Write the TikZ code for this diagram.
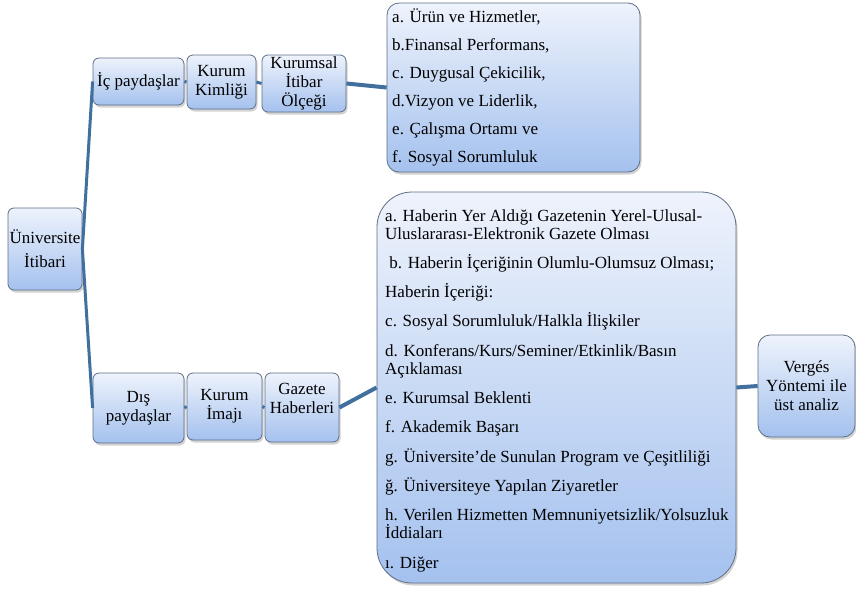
\documentclass[tikz,border=0pt]{standalone}
\usepackage{fontspec}
\setmainfont{Liberation Serif}
\newfontfamily\tnr{Liberation Serif}
\usetikzlibrary{shadows}
\definecolor{lnkc}{HTML}{41709F}
\definecolor{bdr}{HTML}{5E6E86}
\definecolor{ftop}{HTML}{EEF3FC}
\definecolor{fbot}{HTML}{A4C1EE}
\tikzset{
  box/.style={draw=bdr, line width=0.8pt, rounded corners=6pt,
    top color=ftop, bottom color=fbot,
    drop shadow={shadow xshift=1.5pt, shadow yshift=-2.5pt, opacity=0.35},
    inner sep=0pt, align=center, font=\tnr\fontsize{17}{19}\selectfont},
  itm/.style={anchor=base west, inner sep=0pt, font=\tnr\fontsize{17}{19}\selectfont},
  conn/.style={draw=lnkc, line width=3pt},
  connb/.style={draw=lnkc, line width=4pt},
}
\begin{document}
\begin{tikzpicture}[x=1pt, y=-1pt]
\useasboundingbox (0,0) rectangle (856,589);
% boxes
\node[box, minimum width=74pt, minimum height=82pt] (univ) at (45,249) {Üniversite\\[5pt]İtibari};
\node[box, minimum width=91pt, minimum height=47pt] (ic) at (138.5,81.5) {İç paydaşlar};
\node[box, minimum width=69pt, minimum height=54pt] (kk) at (221.5,82) {Kurum\\Kimliği};
\node[box, minimum width=84pt, minimum height=57pt] (kio) at (304,83.5) {Kurumsal\\İtibar\\Ölçeği};
\node[box, rounded corners=12pt, minimum width=253pt, minimum height=169pt] (top) at (513.5,87.5) {};
\node[box, minimum width=91pt, minimum height=70pt] (dis) at (138.5,408) {Dış\\paydaşlar};
\node[box, minimum width=75pt, minimum height=67pt] (ki) at (224.5,406.5) {Kurum\\İmajı};
\node[box, minimum width=74pt, minimum height=69pt] (gh) at (302,407.5) {Gazete\\Haberleri\\\mbox{}};
\node[box, rounded corners=35pt, minimum width=359pt, minimum height=391pt] (bot) at (556.5,387.5) {};
\node[box, rounded corners=12pt, minimum width=97pt, minimum height=102pt] (vg) at (806.5,386) {Vergés\\Yöntemi ile\\üst analiz};
% top list
\node[itm] (t1) at (392,23) {a. Ürün ve Hizmetler,};
\node[itm] (t2) at (392,50.8) {b.Finansal Performans,};
\node[itm] (t3) at (392,78.6) {c. Duygusal Çekicilik,};
\node[itm] (t4) at (392,106.4) {d.Vizyon ve Liderlik,};
\node[itm] (t5) at (392,134.2) {e. Çalışma Ortamı ve};
\node[itm] (t6) at (392,162) {f. Sosyal Sorumluluk};
% bottom list
\node[itm] (b1) at (385,221) {a. Haberin Yer Aldığı Gazetenin Yerel-Ulusal-};
\node[itm] (b2) at (385,239) {Uluslararası-Elektronik Gazete Olması};
\node[itm] (b3) at (385,268.3) {\ b. Haberin İçeriğinin Olumlu-Olumsuz Olması;};
\node[itm] (b4) at (385,297.6) {Haberin İçeriği:};
\node[itm] (b5) at (385,326.9) {c. Sosyal Sorumluluk/Halkla İlişkiler};
\node[itm] (b6) at (385,356.2) {d. Konferans/Kurs/Seminer/Etkinlik/Basın};
\node[itm] (b7) at (385,374.2) {Açıklaması};
\node[itm] (b8) at (385,403.5) {e. Kurumsal Beklenti};
\node[itm] (b9) at (385,432.8) {f. Akademik Başarı};
\node[itm] (b10) at (385,462.1) {g. Üniversite’de Sunulan Program ve Çeşitliliği};
\node[itm] (b11) at (385,491.4) {ğ. Üniversiteye Yapılan Ziyaretler};
\node[itm] (b12) at (385,520.7) {h. Verilen Hizmetten Memnuniyetsizlik/Yolsuzluk};
\node[itm] (b13) at (385,538.7) {İddiaları};
\node[itm] (b14) at (385,568) {ı. Diğer};
% connectors
\draw[conn] (univ.east) -- (ic.west);
\draw[conn] (univ.east) -- (dis.west);
\draw[conn] (ic.east) -- (kk.west);
\draw[conn] (kk.east) -- (kio.west);
\draw[connb] (kio.east) -- (top.west);
\draw[conn] (dis.east) -- (ki.west);
\draw[conn] (ki.east) -- (gh.west);
\draw[connb] (gh.east) -- (bot.west);
\draw[connb] (bot.east) -- (vg.west);
\end{tikzpicture}
\end{document}
